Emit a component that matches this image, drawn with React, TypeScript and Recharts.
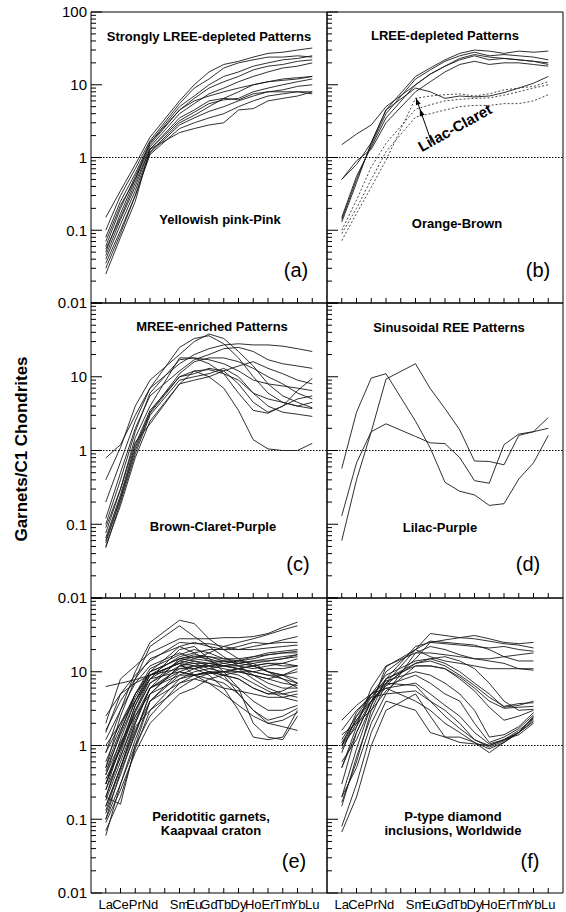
import { LineChart, Line, XAxis, YAxis, ReferenceLine, ReferenceArea } from 'recharts';

// REE order, Pm (x = 5) has no data but keeps its slot on the axis
const ELEMENTS = ['La', 'Ce', 'Pr', 'Nd', 'Sm', 'Eu', 'Gd', 'Tb', 'Dy', 'Ho', 'Er', 'Tm', 'Yb', 'Lu'];
const ELEMENT_X = [1, 2, 3, 4, 6, 7, 8, 9, 10, 11, 12, 13, 14, 15];
const X_TICKS = [1, 2, 3, 4, 5, 6, 7, 8, 9, 10, 11, 12, 13, 14, 15];
const Y_MAJOR = [0.01, 0.1, 1, 10, 100];
const Y_MAJOR_LABELS = ['0.01', '0.1', '1', '10', '100'];
const Y_MINOR = [0.01, 0.1, 1, 10].flatMap((d) => [2, 3, 4, 5, 6, 7, 8, 9].map((m) => +(d * m).toPrecision(2)));
const Y_TICKS = [...Y_MAJOR, ...Y_MINOR];

// (a) Strongly LREE-depleted, yellowish pink-pink
const PANEL_A = [
  [0.15, 0.35, 0.8, 1.9, 6, 10, 15, 19, 21, 24, 27, 28, 30, 32],
  [0.1, 0.3, 0.7, 1.7, 5.5, 9, 12, 17, 20, 22, 24, 24, 25, 24],
  [0.08, 0.25, 0.6, 1.6, 5, 7, 10, 13, 15, 18, 20, 22, 23, 25],
  [0.06, 0.2, 0.55, 1.5, 4.5, 6.5, 9, 11, 13, 16, 18, 19, 21, 22],
  [0.05, 0.17, 0.5, 1.4, 4, 5.5, 7.5, 9, 11, 13, 15, 17, 18, 20],
  [0.055, 0.15, 0.45, 1.3, 3.5, 4.5, 6, 6.5, 8, 10, 11, 12, 12.5, 13],
  [0.045, 0.14, 0.4, 1.3, 3.2, 4.2, 5.5, 6.2, 6.5, 8, 9, 10, 11, 12],
  [0.04, 0.12, 0.35, 1.2, 3, 3.8, 5, 6.5, 6.2, 7.5, 8, 8.5, 9.5, 10],
  [0.035, 0.1, 0.3, 1.15, 2.8, 3.5, 4.3, 5, 6, 7, 8, 8, 8, 8],
  [0.03, 0.09, 0.3, 1.1, 2.5, 3, 3.5, 4, 5, 6, 7, 7.5, 8, 7.5],
  [0.025, 0.08, 0.25, 1.3, 2.2, 2.5, 2.8, 3, 4.5, 4.7, 6, 6.5, 7, 8],
  [0.07, 0.22, 0.5, 1.6, 4.5, 6, 7, 8, 9, 10, 11, 11.5, 12, 13],
];

// (b) LREE-depleted, orange-brown (solid) and lilac-claret (dashed)
const PANEL_B_SOLID = [
  [0.13, 0.45, 1.6, 4.5, 13, 17, 22, 27, 30, 29, 27, 29, 28, 29],
  [0.14, 0.5, 1.5, 4, 12, 16, 21, 25, 28, 25, 26, 25, 24, 22],
  [0.15, 0.55, 1.4, 3.5, 10, 14, 18, 22, 25, 22, 23, 22, 21, 19],
  [0.5, 0.9, 1.3, 3, 8, 11, 15, 19, 21, 19, 20, 20, 19, 18],
  [0.5, 0.8, 1.6, 4.5, 9, 8, 6.5, 7, 6.8, 7, 7.8, 9, 10.5, 13],
  [1.5, 2.1, 2.8, 5, 10, 14, 18, 23, 26, 24, 23, 22, 21, 20],
];
const PANEL_B_DASHED = [
  [0.072, 0.17, 0.39, 0.92, 6.5, 7, 7.3, 7.5, 7, 7.5, 8.5, 9, 9.5, 11],
  [0.1, 0.26, 0.74, 1.56, 4.6, 5.3, 6, 6.3, 6.5, 6.6, 7.2, 8, 9, 10],
  [0.09, 0.2, 0.5, 1.2, 3.6, 4, 4.5, 5, 5.2, 5.2, 5.5, 5.5, 6, 7.3],
];

// (c) MREE-enriched, brown-claret-purple
const PANEL_C = [
  [0.79, 1.2, 3, 7, 25, 33, 36, 28, 18, 10, 6, 4.5, 4, 4.5],
  [0.4, 1.1, 4, 9, 20, 30, 38, 33, 22, 14, 8, 5.5, 4.5, 3.8],
  [0.2, 0.7, 2.5, 7, 15, 20, 24, 27, 28, 27, 27, 26, 24, 22],
  [0.12, 0.5, 2, 5.5, 12, 17, 20, 24, 25, 22, 17, 15, 14, 13],
  [0.076, 0.3, 1.5, 4, 18, 18, 17, 15, 12, 9, 8, 7.5, 7, 6.5],
  [0.065, 0.25, 1.2, 3.5, 10, 12, 10, 7, 3.5, 1.4, 1.05, 1.0, 1.0, 1.25],
  [0.056, 0.22, 1, 3.2, 10, 11, 13, 12, 8, 4.5, 3.3, 4, 6.5, 9.5],
  [0.048, 0.2, 0.9, 3, 9, 10, 11, 13, 10, 6, 4, 3.3, 3.1, 2.9],
  [0.05, 0.18, 0.8, 2.5, 8, 12, 12.5, 11, 9, 6, 5, 4.5, 4, 3.7],
  [0.06, 0.23, 1.1, 3.3, 11, 16, 18, 18, 16, 13, 10, 8, 6, 5],
  [0.09, 0.3, 1.3, 2.3, 8, 9, 10, 12, 14, 16, 13, 11, 9, 8],
  [0.1, 0.4, 1.8, 6, 17, 18, 15, 11, 6, 3.5, 3.2, 4, 5, 5.5],
];

// (d) Sinusoidal, lilac-purple
const PANEL_D = [
  [0.57, 3.3, 9.6, 11, 2.5, 1.08, 0.37, 0.28, 0.25, 0.18, 0.19, 0.41, 0.68, 1.6],
  [0.13, 0.68, 1.8, 9.3, 15, 6.9, 3.7, 1.9, 0.72, 0.71, 0.64, 1.6, 1.8, 2.8],
  [0.06, 0.4, 1.8, 2.3, 1.55, 1.27, 1.24, 0.8, 0.39, 0.36, 1.2, 1.67, 1.8, 2.0],
];

// (e) Peridotitic garnets, Kaapvaal craton (La..Yb)
const PANEL_E = [
  [0.8, 3, 10, 25, 50, 45, 28, 20, 15, 12, 10, 9, 7],
  [0.5, 2.5, 8, 22, 42, 30, 22, 16, 12, 9, 7, 6, 6],
  [2, 8, 12, 18, 28, 28, 28, 29, 29, 30, 33, 40, 47],
  [6.3, 7, 7.8, 9, 13, 15, 18, 22, 25, 28, 32, 37, 42],
  [1.5, 5, 9, 14, 25, 24, 24, 22, 20, 22, 24, 27, 30],
  [0.3, 1.2, 4, 10, 22, 25, 22, 20, 22, 25, 24, 25, 25],
  [0.2, 0.8, 3, 8, 20, 22, 15, 10, 6, 4, 3, 3, 3.5],
  [0.15, 0.5, 2, 6, 15, 14, 12, 9, 5, 3, 2, 1.8, 1.6],
  [0.12, 0.4, 1.5, 5, 12, 11, 9, 6, 3, 1.3, 1.2, 1.3, 3],
  [0.1, 0.3, 1.2, 4, 10, 9, 10, 8, 6, 2, 1.3, 1.2, 2.5],
  [0.07, 0.2, 0.9, 3, 8, 10, 11, 12, 12, 11, 12, 13, 15],
  [0.3, 1, 3, 7, 12, 14, 13, 12, 11, 10, 9, 8, 7],
  [0.4, 1.5, 5, 10, 15, 16, 15, 13, 12, 13, 14, 15, 17],
  [0.25, 0.7, 2.5, 6, 10, 12, 12, 11, 10, 9, 8, 9, 11],
  [1, 2, 5, 9, 13, 12, 10, 9, 8, 6, 5, 5, 5.5],
  [0.35, 0.9, 3.5, 8, 14, 13, 11, 10, 9, 7, 5.5, 4.5, 4],
  [2.5, 5, 7, 9, 11, 11, 12, 13, 14, 16, 18, 19, 20],
  [0.6, 1.8, 5, 11, 17, 20, 18, 15, 14, 15, 17, 18, 19],
  [0.18, 0.6, 2, 6, 9, 9, 10, 10, 11, 12, 13, 13, 12],
  [0.2, 0.16, 1, 4, 9, 11, 13, 12, 11, 8, 6, 5, 4.5],
  [0.45, 1.4, 4, 9, 13, 9, 7, 5, 3.5, 2.5, 2, 2.2, 2.8],
  [1.2, 3, 7, 12, 18, 15, 14, 14, 13, 14, 15, 16, 17],
  [0.09, 0.25, 0.8, 2, 5, 6, 8, 9, 10, 10, 11, 11, 12],
  [0.13, 0.5, 1.8, 3, 6, 8, 9.5, 10, 11, 12, 13, 12, 12],
  [0.06, 0.3, 1, 2.5, 7, 9, 10, 9, 8, 6, 5, 5.5, 7],
  [0.8, 2, 4, 8, 10, 9, 8, 7, 5, 3, 2.2, 2.5, 3.2],
  [0.25, 1, 3.5, 9, 16, 18, 20, 20, 20, 20, 21, 22, 23],
  [0.4, 1.1, 2.5, 5, 8, 9, 9.5, 10, 10, 9, 8, 7, 6.5],
  [1.6, 4, 8, 15, 22, 18, 14, 12, 11, 10, 9, 9, 10],
  [0.15, 0.5, 1.6, 4, 7, 8, 7, 6, 5.5, 5, 4.5, 4.5, 5],
  [0.3, 0.9, 2.8, 7, 14, 16, 16, 15, 15, 16, 17, 18, 18],
  [0.2, 0.7, 2.2, 6, 11, 12, 12, 12, 13, 14, 14, 15, 16],
  [0.5, 1.6, 4.5, 10, 15, 17, 16, 14, 13, 12, 10, 9, 8],
  [0.1, 0.45, 1.4, 5, 12, 13, 13, 14, 14, 13, 10, 8, 6],
];

// (f) P-type diamond inclusions, worldwide (La..Yb)
const PANEL_F = [
  [2.2, 3.5, 5, 7, 20, 33, 31, 29, 28, 26, 24, 23, 21],
  [1.2, 2.5, 4, 6.5, 15, 25, 27, 29, 31, 28, 25, 24, 25],
  [1.0, 2.2, 4.5, 8, 22, 25, 24, 23, 22, 21, 22, 20, 19],
  [0.5, 1.5, 4, 10, 20, 26, 25, 24, 23, 20, 16, 14, 14],
  [0.2, 0.5, 2, 5, 18, 22, 20, 17, 15, 14, 13, 11, 10.5],
  [0.5, 1.8, 6, 12, 18, 18, 17, 16, 15, 15, 16, 17, 18],
  [0.9, 2, 5, 9, 14, 15, 13, 10, 7, 5, 3.3, 3.5, 4],
  [1.0, 1.8, 4, 7, 13, 14, 12, 9, 6.5, 4.5, 3.4, 3.7, 3.8],
  [0.17, 0.6, 3, 8, 12, 12, 11, 8.5, 6, 4, 3.2, 3.3, 3.4],
  [0.2, 0.9, 3.5, 8, 13, 15, 16, 14, 11, 7, 4, 3, 3.1],
  [1.4, 2, 3, 5.5, 12, 12, 11, 8, 5.5, 3.3, 2.2, 2.5, 3],
  [1.6, 3, 4.5, 5, 5.5, 4, 3, 2, 1.2, 1.0, 1.2, 1.5, 2.5],
  [0.8, 2.5, 5, 6, 7, 5, 3.5, 2.5, 1.5, 1.05, 1.2, 1.6, 2.3],
  [0.3, 1.5, 4, 6, 4, 3, 2, 1.5, 1.1, 0.9, 1.1, 1.5, 2.2],
  [0.08, 0.3, 1.5, 4, 3, 1.5, 1.3, 1.3, 1.1, 0.8, 1.1, 1.5, 2.1],
  [0.067, 0.2, 1, 3, 5, 2.5, 1.3, 1.1, 1.05, 1.0, 1.2, 1.4, 2],
  [1.1, 2.2, 4, 6.5, 9, 7, 5, 4, 2, 1.1, 1.3, 1.7, 2.6],
  [1.0, 2.8, 5, 7.5, 10, 9, 7, 5, 3, 1.3, 1.4, 1.8, 2.8],
  [0.15, 0.7, 2.5, 7, 6.5, 4, 2.5, 1.7, 1.2, 0.95, 1.15, 1.5, 2.4],
  [0.6, 1.2, 3.5, 11.7, 20, 16, 14, 13, 12, 11, 11, 11, 11],
];

const FONT = '"Liberation Sans", Arial, Helvetica, sans-serif';
const COL_LEFT = [91, 327];
const ROW_TOP = [12, 303, 598];
const ROW_H = [291, 295, 295];
const PLOT_W = 236;
const Y_W = 40;
const X_H = 26;
const M_TOP = 10;
const M_RIGHT = 2;

function YTick(props: any) {
  const { x, y, payload, labels } = props;
  const v = payload.value;
  const idx = Y_MAJOR.indexOf(v);
  const ax = x + 4;
  const len = idx >= 0 ? 11 : 5;
  return (
    <g>
      <line x1={ax} x2={ax + len} y1={y} y2={y} stroke="#000" strokeWidth={1} />
      {idx >= 0 && labels.includes(v) && (
        <text x={x} y={y} dy="0.36em" textAnchor="end" fontFamily={FONT} fontSize={15} fill="#000">
          {Y_MAJOR_LABELS[idx]}
        </text>
      )}
    </g>
  );
}

function XTick(props: any) {
  const { x, y, payload, showLabel } = props;
  const i = ELEMENT_X.indexOf(payload.value);
  return (
    <g>
      <line x1={x} x2={x} y1={y} y2={y - 5} stroke="#000" strokeWidth={1} />
      {showLabel && i >= 0 && (
        <text x={x} y={y + 16} textAnchor="middle" fontFamily={FONT} fontSize={13} fill="#000">
          {ELEMENTS[i]}
        </text>
      )}
    </g>
  );
}

const arrowShape = (p: any) => {
  const { x1, y1, x2, y2 } = p;
  const dx = x2 - x1;
  const dy = y2 - y1;
  const len = Math.hypot(dx, dy) || 1;
  const ux = dx / len;
  const uy = dy / len;
  const head = (t: number) => {
    const hx = x1 + dx * t;
    const hy = y1 + dy * t;
    const bx = hx - ux * 7;
    const by = hy - uy * 7;
    return `${hx},${hy} ${bx - uy * 2.5},${by + ux * 2.5} ${bx + uy * 2.5},${by - ux * 2.5}`;
  };
  return (
    <g>
      <line x1={x1} y1={y1} x2={x2} y2={y2} stroke="#000" strokeWidth={1} />
      <polygon points={head(1)} fill="#000" />
      <polygon points={head(0.75)} fill="#000" />
    </g>
  );
};

interface PanelProps {
  col: number;
  row: number;
  solid: number[][];
  dashed?: number[][];
  yLabels: number[];
  xLabels: boolean;
  arrow?: boolean;
}

function Panel({ col, row, solid, dashed = [], yLabels, xLabels, arrow }: PanelProps) {
  const plotH = ROW_H[row];
  const data = ELEMENTS.map((el, i) => {
    const r: Record<string, any> = { el, x: ELEMENT_X[i] };
    solid.forEach((s, k) => { r[`s${k}`] = s[i]; });
    dashed.forEach((s, k) => { r[`d${k}`] = s[i]; });
    return r;
  });
  return (
    <div style={{ position: 'absolute', left: COL_LEFT[col] - Y_W, top: ROW_TOP[row] - M_TOP }}>
      <LineChart
        width={Y_W + PLOT_W + M_RIGHT}
        height={M_TOP + plotH + X_H}
        data={data}
        margin={{ top: M_TOP, right: M_RIGHT, left: 0, bottom: 0 }}
      >
        <XAxis
          type="number" dataKey="x" domain={[0, 16]} ticks={X_TICKS} interval={0}
          height={X_H} tickSize={0} tickMargin={0} axisLine={false} tickLine={false}
          tick={<XTick showLabel={xLabels} />} allowDataOverflow
        />
        <YAxis
          type="number" scale="log" domain={[0.01, 100]} ticks={Y_TICKS} interval={0}
          width={Y_W} tickSize={0} tickMargin={4} axisLine={false} tickLine={false}
          tick={<YTick labels={yLabels} />} allowDataOverflow
        />
        <ReferenceArea x1={0} x2={16} y1={0.01} y2={100} fill="none" stroke="#000" strokeWidth={1} />
        <ReferenceLine y={1} stroke="#000" strokeWidth={1} strokeDasharray="1.5 1.5" />
        {solid.map((_, k) => (
          <Line key={`s${k}`} type="linear" dataKey={`s${k}`} stroke="#1a1a1a" strokeWidth={0.9}
            dot={false} activeDot={false} isAnimationActive={false} />
        ))}
        {dashed.map((_, k) => (
          <Line key={`d${k}`} type="linear" dataKey={`d${k}`} stroke="#333" strokeWidth={0.9}
            strokeDasharray="2 2" dot={false} activeDot={false} isAnimationActive={false} />
        ))}
        {arrow && (
          <ReferenceLine segment={[{ x: 7.1, y: 1.6 }, { x: 6.03, y: 6.6 }]} shape={arrowShape} />
        )}
      </LineChart>
    </div>
  );
}

function Note({ x, y, children, size = 13, bold = true, rotate = 0 }: any) {
  return (
    <div
      style={{
        position: 'absolute', left: x, top: y, transform: `translate(-50%, -50%) rotate(${rotate}deg)`,
        fontFamily: FONT, fontSize: size, fontWeight: bold ? 700 : 400, lineHeight: '14px',
        textAlign: 'center', whiteSpace: 'nowrap', color: '#000',
      }}
    >
      {children}
    </div>
  );
}

export default function App() {
  const allLabels = Y_MAJOR;
  const noTop = [0.01, 0.1, 1, 10];
  return (
    <div style={{ position: 'absolute', left: 0, top: 0, width: 566, height: 912, background: '#fff' }}>
      <Panel col={0} row={0} solid={PANEL_A} yLabels={allLabels} xLabels={false} />
      <Panel col={1} row={0} solid={PANEL_B_SOLID} dashed={PANEL_B_DASHED} yLabels={[]} xLabels={false} arrow />
      <Panel col={0} row={1} solid={PANEL_C} yLabels={noTop} xLabels={false} />
      <Panel col={1} row={1} solid={PANEL_D} yLabels={[]} xLabels={false} />
      <Panel col={0} row={2} solid={PANEL_E} yLabels={noTop} xLabels />
      <Panel col={1} row={2} solid={PANEL_F} yLabels={[]} xLabels />

      <Note x={22} y={449} size={17} rotate={-90}>Garnets/C1 Chondrites</Note>

      <Note x={209} y={37}>Strongly LREE-depleted Patterns</Note>
      <Note x={220} y={220}>Yellowish pink-Pink</Note>
      <Note x={296} y={270} size={20} bold={false}>(a)</Note>

      <Note x={445} y={36}>LREE-depleted Patterns</Note>
      <Note x={457} y={224}>Orange-Brown</Note>
      <Note x={538} y={270} size={20} bold={false}>(b)</Note>
      <Note x={455} y={128} size={15} rotate={-29}>Lilac-Claret</Note>

      <Note x={212} y={327}>MREE-enriched Patterns</Note>
      <Note x={213} y={527}>Brown-Claret-Purple</Note>
      <Note x={298} y={564} size={20} bold={false}>(c)</Note>

      <Note x={449} y={328}>Sinusoidal REE Patterns</Note>
      <Note x={440} y={528}>Lilac-Purple</Note>
      <Note x={528} y={564} size={20} bold={false}>(d)</Note>

      <Note x={211} y={824}>Peridotitic garnets,<br />Kaapvaal craton</Note>
      <Note x={294} y={861} size={20} bold={false}>(e)</Note>

      <Note x={453} y={824}>P-type diamond<br />inclusions, Worldwide</Note>
      <Note x={530} y={861} size={20} bold={false}>(f)</Note>
    </div>
  );
}
